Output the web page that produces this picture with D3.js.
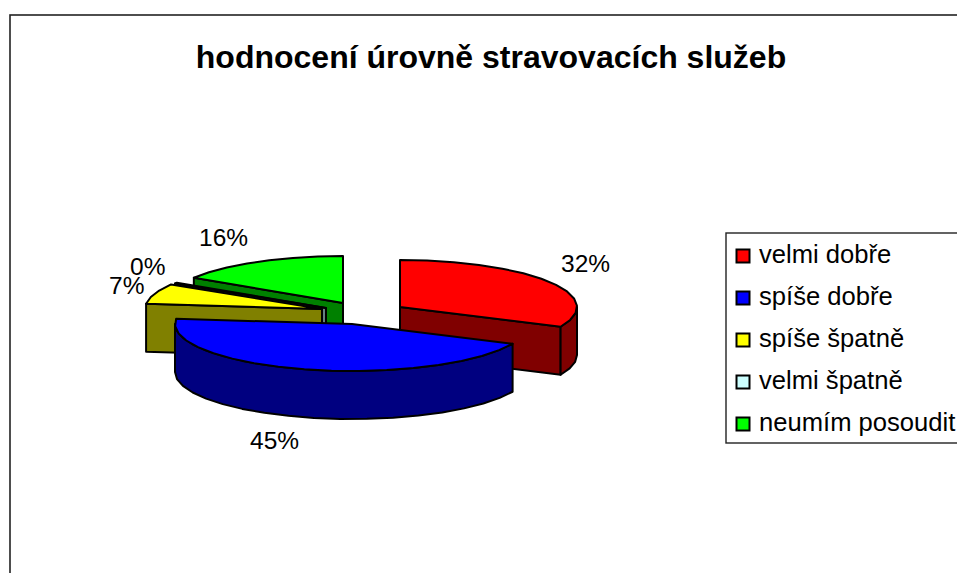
<!DOCTYPE html>
<html><head><meta charset="utf-8">
<script src="https://cdn.jsdelivr.net/npm/d3@7/dist/d3.min.js"></script>
<style>html,body{margin:0;padding:0;background:#fff;overflow:hidden}svg{display:block}text{font-family:"Liberation Sans",Arial,sans-serif;fill:#000}</style>
</head><body><svg id="c" width="957" height="573"></svg>
<script>
const chartTitle = "hodnocení úrovně stravovacích služeb";
const categories = ["velmi dobře","spíše dobře","spíše špatně","velmi špatně","neumím posoudit"];
const values = [32,45,7,0.3,16];
const topColors = ["#ff0000","#0000ff","#ffff00","#ccffff","#00ff00"];
const sideColors = ["#800000","#000080","#808000","#668080","#008000"];

// layout
const rx=177, ry=47, depth=48, step=9*Math.PI/180;
const apex=[[400,307],[352,324],[322,309],[326,308],[343,303]];
const labelPos=[[561,272],[250,449],[109,294],[130,275],[199,246]];
const drawOrder=[4,3,2,0,1];

const svg=d3.select("#c");
svg.append("rect").attr("x",10).attr("y",15).attr("width",1000).attr("height",700)
  .attr("fill","#fff").attr("stroke","#222").attr("stroke-width",1.6);
svg.append("text").attr("x",491).attr("y",68).attr("text-anchor","middle")
  .attr("font-weight","bold").attr("font-size",32).text(chartTitle);

const total=d3.sum(values);
const arcs=d3.pie().sort(null).value(d=>d)(values);
const pct=d3.format(".0%");
const topFill=d3.scaleOrdinal(categories,topColors), sideFill=d3.scaleOrdinal(categories,sideColors);
const line=d3.line().curve(d3.curveLinear);
const rimPts=(i,a0,a1,dz=0)=>{
  const [ax,ay]=apex[i], n=Math.max(1,Math.ceil(Math.abs(a1-a0)/step));
  return d3.range(n+1).map(k=>{const a=a0+(a1-a0)*k/n;
    return [ax+rx*Math.sin(a), ay-ry*Math.cos(a)+dz];});
};
const g=svg.append("g").attr("stroke","#000").attr("stroke-width",2).attr("stroke-linejoin","round");
const poly=(pts,fill)=>g.append("path").attr("d",line(pts)+"Z").attr("fill",fill);
drawOrder.forEach(i=>{
  const d=arcs[i], c=categories[i], [ax,ay]=apex[i];
  const s=d.startAngle, e=d.endAngle;
  const P=(a,dz)=>rimPts(i,a,a,dz)[0];
  const cw=sideFill(c), ct=topFill(c);
  if(s>Math.PI) poly([[ax,ay],P(s,0),P(s,depth),[ax,ay+depth]],cw);
  if(e<Math.PI) poly([[ax,ay],P(e,0),P(e,depth),[ax,ay+depth]],cw);
  const a0=Math.max(s,Math.PI/2), a1=Math.min(e,Math.PI*1.5);
  if(a1>a0) poly(rimPts(i,a0,a1,0).concat(rimPts(i,a1,a0,depth)),cw);
  poly([[ax,ay]].concat(rimPts(i,s,e,0)),ct);
});
categories.forEach((c,k)=>svg.append("text").attr("x",labelPos[k][0]).attr("y",labelPos[k][1])
  .attr("font-size",24.5).text(pct(values[k]/total)));

// legend
const lx=726, ly=233;
svg.append("rect").attr("x",lx).attr("y",ly).attr("width",400).attr("height",210)
  .attr("fill","#fff").attr("stroke","#222").attr("stroke-width",1.4);
const rowY=d3.scalePoint(categories,[256,424]);
categories.forEach(c=>{
  svg.append("rect").attr("x",736.5).attr("y",rowY(c)-6.5).attr("width",13).attr("height",13)
    .attr("fill",topFill(c)).attr("stroke","#000").attr("stroke-width",2);
  svg.append("text").attr("x",759).attr("y",rowY(c)+7).attr("font-size",25.6).text(c);
});
</script></body></html>
